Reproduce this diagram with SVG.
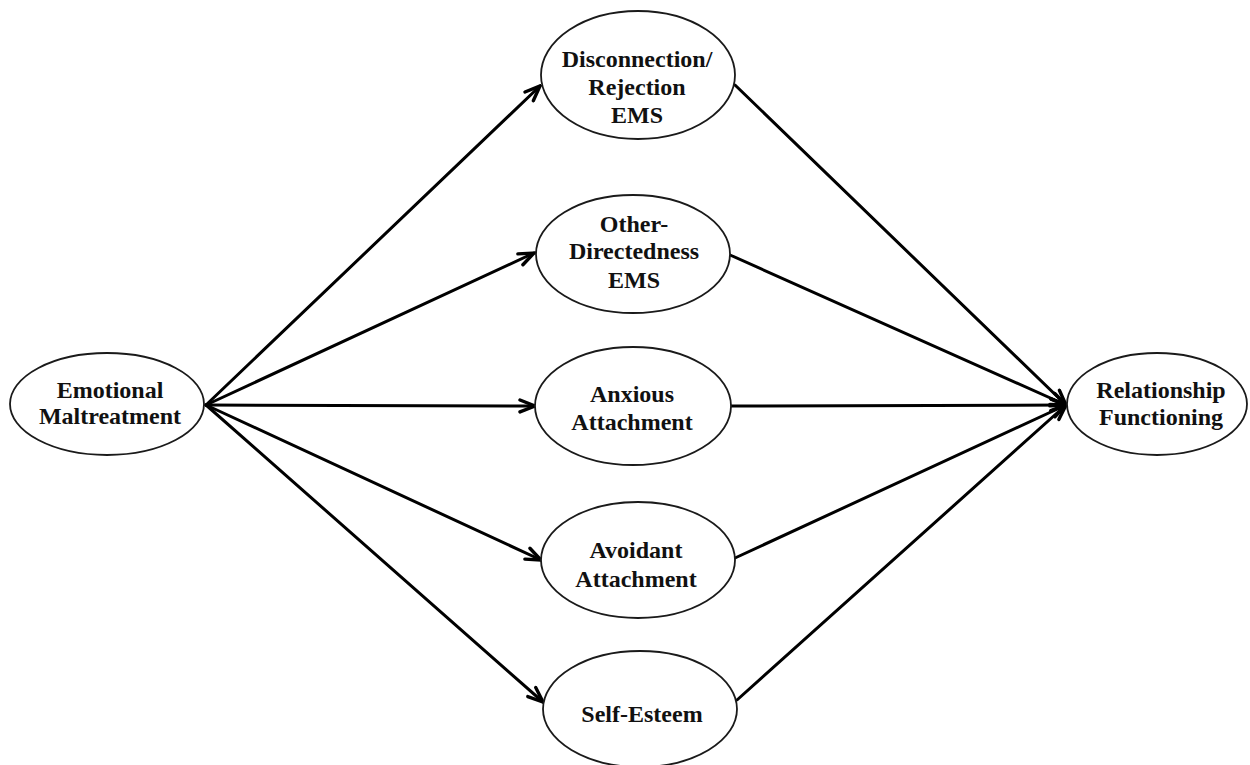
<svg xmlns="http://www.w3.org/2000/svg" width="1250" height="765" viewBox="0 0 1250 765">
  <defs>
    <marker id="arrow" viewBox="0 0 20 16" refX="18" refY="8" markerWidth="20" markerHeight="16" markerUnits="userSpaceOnUse" orient="auto">
      <path d="M3,2 L18,8 L3,14" fill="none" stroke="#000" stroke-width="3.4" stroke-linejoin="miter" stroke-linecap="round"/>
    </marker>
  </defs>
  <style>
    .node ellipse { fill: #fff; stroke: #1a1a1a; stroke-width: 1.8; }
    .node text { font-family: "Liberation Serif", "Times New Roman", serif; font-weight: bold; font-size: 24px; fill: #111; text-anchor: middle; }
    .edge { stroke: #000; stroke-width: 3; fill: none; stroke-linecap: round; }
    .in { marker-end: url(#arrow); }
  </style>
  <rect width="1250" height="765" fill="#fff"/>

  <!-- connectors -->
  <g id="connectors">
    <line class="edge in" x1="206" y1="405" x2="540" y2="86"/>
    <line class="edge in" x1="206" y1="405" x2="534" y2="253"/>
    <line class="edge in" x1="206" y1="405" x2="535" y2="406"/>
    <line class="edge in" x1="206" y1="405" x2="541" y2="560"/>
    <line class="edge in" x1="206" y1="405" x2="543" y2="702"/>
    <line class="edge in" x1="735" y1="85" x2="1066" y2="405"/>
    <line class="edge in" x1="730" y1="255" x2="1066" y2="405"/>
    <line class="edge in" x1="731" y1="406" x2="1066" y2="405"/>
    <line class="edge in" x1="735" y1="558" x2="1066" y2="405"/>
    <line class="edge in" x1="737" y1="700" x2="1066" y2="405"/>
  </g>

  <g id="emotional-maltreatment" class="node">
    <ellipse cx="107" cy="404" rx="97" ry="51"/>
    <text x="110" y="398">Emotional</text>
    <text x="110" y="424">Maltreatment</text>
  </g>

  <g id="disconnection-rejection" class="node">
    <ellipse cx="638" cy="75" rx="97" ry="64"/>
    <text x="637" y="67">Disconnection/</text>
    <text x="637" y="95">Rejection</text>
    <text x="637" y="123">EMS</text>
  </g>

  <g id="other-directedness" class="node">
    <ellipse cx="633" cy="254" rx="97" ry="59"/>
    <text x="634" y="232">Other-</text>
    <text x="634" y="259">Directedness</text>
    <text x="634" y="288">EMS</text>
  </g>

  <g id="anxious-attachment" class="node">
    <ellipse cx="633" cy="406" rx="98" ry="59"/>
    <text x="632" y="402">Anxious</text>
    <text x="632" y="430">Attachment</text>
  </g>

  <g id="avoidant-attachment" class="node">
    <ellipse cx="638" cy="560" rx="97" ry="58"/>
    <text x="636" y="558">Avoidant</text>
    <text x="636" y="587">Attachment</text>
  </g>

  <g id="self-esteem" class="node">
    <ellipse cx="640" cy="709" rx="97" ry="58"/>
    <text x="642" y="722">Self-Esteem</text>
  </g>

  <g id="relationship-functioning" class="node">
    <ellipse cx="1157" cy="404" rx="90" ry="51"/>
    <text x="1161" y="398">Relationship</text>
    <text x="1161" y="425">Functioning</text>
  </g>
</svg>
